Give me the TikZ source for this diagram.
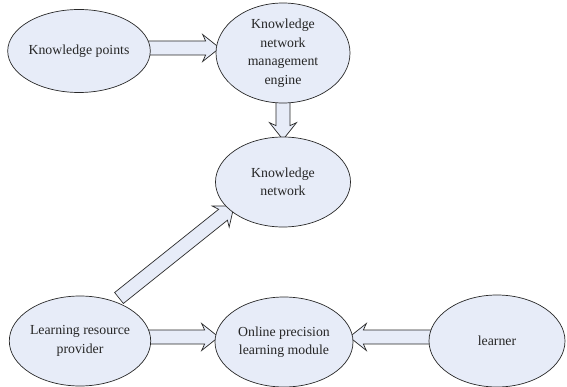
\documentclass[tikz,border=0pt]{standalone}
\usepackage{fontspec}
\setmainfont{Liberation Serif}
\usetikzlibrary{calc,shapes.geometric}
\definecolor{bubble}{RGB}{231,236,248}
\definecolor{edge}{RGB}{40,40,40}
\pgfdeclarelayer{background}
\pgfsetlayers{background,main}
\tikzset{
  bub/.style={ellipse, draw=edge, fill=bubble, line width=0.7pt, inner sep=0pt,
    align=center, font=\fontsize{13.8}{18.5}\selectfont, text=black!85},
  barrowline/.style={draw=edge, fill=bubble, line width=0.7pt, line join=miter}
}
\newcommand\barrow[2]{%
  \coordinate (ba) at (#1);
  \coordinate (bb) at (#2);
  \coordinate (bc) at ($(bb)!17pt!(ba)$);
  \coordinate (bd) at ($(bb)!14pt!(ba)$);
  \path[barrowline] ($(ba)!7pt!90:(bb)$) -- ($(bd)!7pt!90:(bb)$) -- ($(bc)!13.5pt!90:(bb)$) -- (bb)
    -- ($(bc)!13.5pt!-90:(bb)$) -- ($(bd)!7pt!-90:(bb)$) -- ($(ba)!7pt!-90:(bb)$) -- cycle;
}
\begin{document}
\begin{tikzpicture}[x=1pt,y=-1pt]
\useasboundingbox (0,0) rectangle (567,387);
\node[bub, minimum width=134pt, minimum height=83pt] (kp) at (79,51) {Knowledge points};
\node[bub, minimum width=134pt, minimum height=100pt] (eng) at (283,53) {Knowledge\\network\\management\\engine};
\node[bub, minimum width=135pt, minimum height=90pt] (kn) at (283,182) {Knowledge\\network};
\node[bub, minimum width=140pt, minimum height=90pt] (lrp) at (80,341) {Learning resource\\provider};
\node[bub, minimum width=138pt, minimum height=90pt] (opl) at (284,342) {Online precision\\learning module};
\node[bub, minimum width=136pt, minimum height=92pt] (lrn) at (497,341) {learner};
\coordinate (dtail) at ($(lrp.center)+(39,-43)$);
\coordinate (dtip) at ($(kn.center)+(-49,24)$);
\begin{pgfonlayer}{background}
  \barrow{$(kp.center)+(0,-3)$}{$(eng.west)+(4,-5)$}
  \barrow{eng.center}{$(kn.north)+(0,3)$}
  \barrow{$(lrp.center)+(0,-4)$}{$(opl.west)+(4,-5)$}
  \barrow{$(lrn.center)+(0,-4)$}{$(opl.east)+(-4,-5)$}
  \barrow{dtail}{dtip}
\end{pgfonlayer}
\end{tikzpicture}
\end{document}
